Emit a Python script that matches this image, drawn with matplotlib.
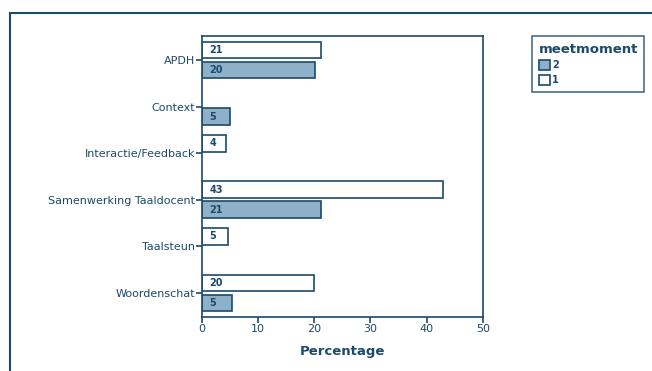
import matplotlib.pyplot as plt
from matplotlib.patches import Rectangle, Patch
import numpy as np

categories = ['APDH', 'Context', 'Interactie/Feedback', 'Samenwerking Taaldocent',
              'Taalsteun', 'Woordenschat']
# percentages per meetmoment (None = no bar)
moment1 = [21.2, None, 4.2, 42.9, 4.7, 20.0]
moment2 = [20.1, 5.0, None, 21.2, None, 5.4]

navy = '#1b4a6b'
fill2 = '#8fb0c9'

fig = plt.figure(figsize=(6.52, 3.71), dpi=100)
ax = fig.add_axes([0.3098, 0.1455, 0.4307, 0.7575])

y = np.arange(len(categories))
h = 0.36
off = 0.215

for i, v in enumerate(moment1):
    if v is None:
        continue
    ax.barh(y[i] - off, v, height=h, color='white', edgecolor=navy, linewidth=1.2)
    ax.text(1.3, y[i] - off, f'{round(v)}', va='center', ha='left',
            fontsize=7, fontweight='bold', color=navy)

for i, v in enumerate(moment2):
    if v is None:
        continue
    ax.barh(y[i] + off, v, height=h, color=fill2, edgecolor=navy, linewidth=1.2)
    ax.text(1.3, y[i] + off, f'{round(v)}', va='center', ha='left',
            fontsize=7, fontweight='bold', color=navy)

ax.set_xlim(0, 50)
ax.set_ylim(len(categories) - 0.485, -0.515)
ax.set_yticks(y)
ax.set_yticklabels(categories)
ax.set_xticks([0, 10, 20, 30, 40, 50])
ax.tick_params(axis='both', colors=navy, labelsize=8, length=4, width=1.2, pad=1)
for lab in ax.get_xticklabels() + ax.get_yticklabels():
    lab.set_color(navy)
for s in ax.spines.values():
    s.set_color(navy)
    s.set_linewidth(1.2)
ax.set_xlabel('Percentage', fontsize=9.5, fontweight='bold', color=navy, labelpad=8)

# legend
handles = [Patch(facecolor=fill2, edgecolor=navy, linewidth=1.2, label='2'),
           Patch(facecolor='white', edgecolor=navy, linewidth=1.2, label='1')]
leg = fig.legend(handles=handles, title='meetmoment', loc='upper left',
                 bbox_to_anchor=(532 / 652, 1 - 36 / 371, 112 / 652, 0),
                 mode='expand', frameon=True, fancybox=False,
                 fontsize=7, title_fontsize=9.5, handlelength=1.2, handleheight=1.2,
                 handletextpad=0.2, labelspacing=0.45, borderpad=0.7,
                 borderaxespad=0, alignment='left')
leg.get_title().set_fontweight('bold')
leg.get_title().set_color(navy)
for t in leg.get_texts():
    t.set_color(navy)
    t.set_fontweight('bold')
leg.get_frame().set_edgecolor(navy)
leg.get_frame().set_linewidth(1.2)

# outer frame
frame = Rectangle((10 / 652, -0.1), 1.2, 1 - 13 / 371 + 0.1, transform=fig.transFigure,
                  fill=False, edgecolor=navy, linewidth=1.5, clip_on=False)
fig.patches.append(frame)

fig.savefig('out.png', dpi=100)
